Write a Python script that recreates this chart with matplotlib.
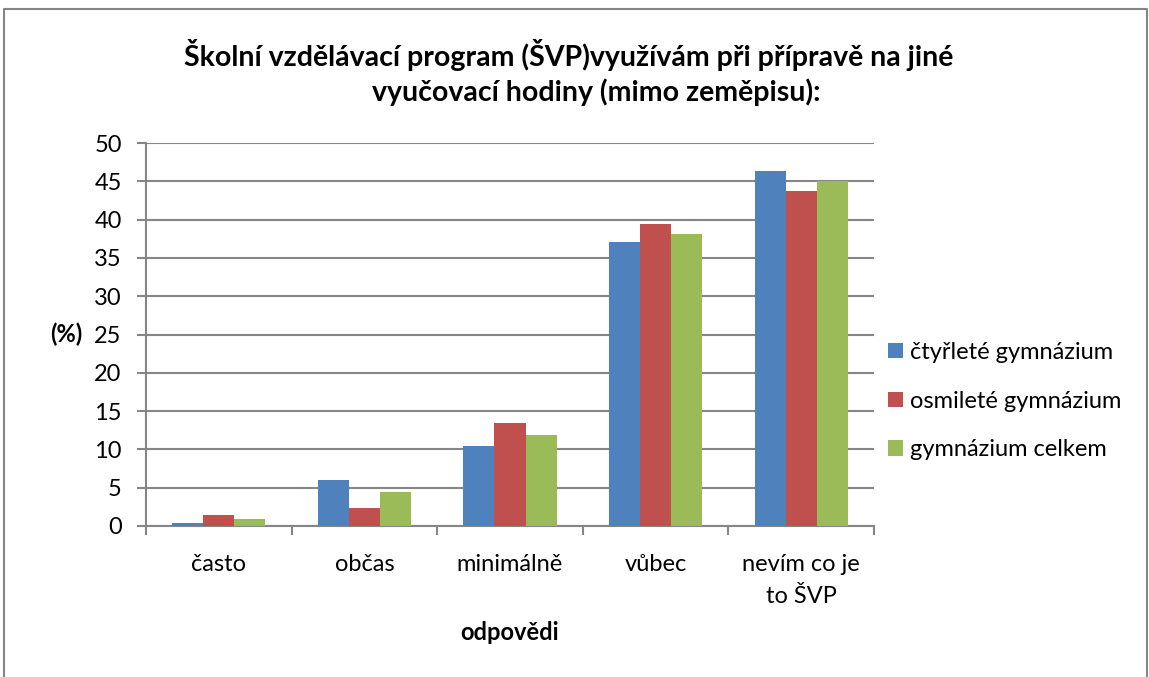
import numpy as np
import matplotlib.pyplot as plt
from matplotlib.lines import Line2D

plt.rcParams['font.family'] = ['Lato', 'DejaVu Sans']

# data
kategorie = ['často', 'občas', 'minimálně', 'vůbec', 'nevím co je\nto ŠVP']
ctyrlete = [0.4, 6.0, 10.4, 37.1, 46.3]
osmilete = [1.4, 2.4, 13.4, 39.4, 43.7]
celkem = [0.9, 4.4, 11.9, 38.1, 45.1]
serie = ['čtyřleté gymnázium', 'osmileté gymnázium', 'gymnázium celkem']
barvy = ['#4F81BD', '#C0504D', '#9BBB59']

W, H = 1149, 677
fig = plt.figure(figsize=(W / 100, H / 100), dpi=100)
ax = fig.add_axes([146 / W, 1 - 526 / H, (874 - 146) / W, (526 - 143) / H])

x = np.arange(len(kategorie))
sirka = 0.213
for i, (vals, nazev, c) in enumerate(zip([ctyrlete, osmilete, celkem], serie, barvy)):
    ax.bar(x + (i - 1) * sirka, vals, sirka, color=c, label=nazev, zorder=3)

ax.set_xlim(-0.5, len(kategorie) - 0.5)
ax.set_ylim(0, 50)
ax.set_yticks(range(0, 51, 5))
ax.yaxis.grid(True, color='#868686', linewidth=1.5, zorder=0)
ax.set_xticks(x)
ax.set_xticklabels(kategorie, fontsize=17, linespacing=1.65)
ax.set_xticks(np.arange(-0.5, len(kategorie)), minor=True)
ax.tick_params(axis='x', which='major', length=0, pad=20)
ax.tick_params(axis='x', which='minor', length=6.5, width=1.5, color='#868686')
ax.tick_params(axis='y', length=6.5, width=1.5, color='#868686', labelsize=17, pad=11)
for s in ['top', 'right']:
    ax.spines[s].set_visible(False)
for s in ['left', 'bottom']:
    ax.spines[s].set_color('#868686')
    ax.spines[s].set_linewidth(1.5)

ax.set_xlabel('odpovědi', fontsize=17, fontweight='bold', labelpad=10)
ax.set_ylabel('(%)', fontsize=17, fontweight='bold', rotation=0, labelpad=20, va='center')

fig.text(569 / W, 1 - 55 / H, 'Školní vzdělávací program (ŠVP)využívám při přípravě na jiné',
         ha='center', va='center', fontsize=20.5, fontweight='bold')
fig.text(596 / W, 1 - 92 / H, 'vyučovací hodiny (mimo zeměpisu):',
         ha='center', va='center', fontsize=20.5, fontweight='bold')

leg = fig.legend(loc='upper left', bbox_to_anchor=(888 / W, 1 - 342 / H), frameon=False,
                 fontsize=17, handlelength=0.62, handleheight=0.62, handletextpad=0.3,
                 labelspacing=1.17, borderpad=0, borderaxespad=0)

# outer frame of the chart (bottom edge cut off in the original)
fig.add_artist(Line2D([4 / W, 4 / W, 1147 / W, 1147 / W], [0, 1 - 9 / H, 1 - 9 / H, 0],
                      transform=fig.transFigure, color='#868686', linewidth=1.5))

fig.savefig('out.png', dpi=100)
